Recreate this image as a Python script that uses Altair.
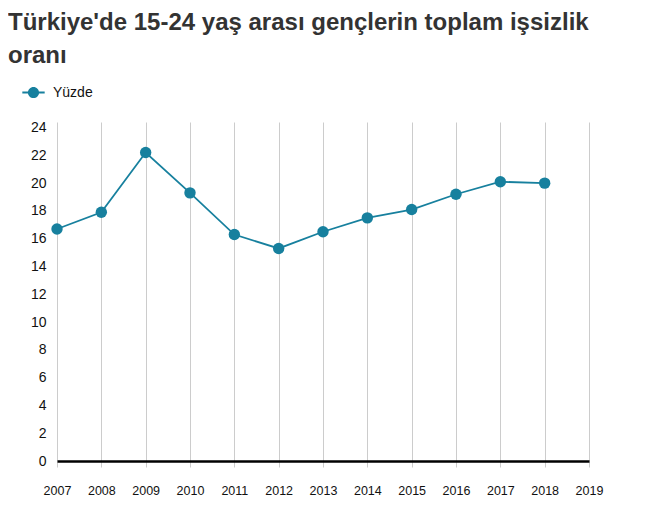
import altair as alt
import pandas as pd

years = [2007, 2008, 2009, 2010, 2011, 2012, 2013, 2014, 2015, 2016, 2017, 2018]
rates = [16.7, 17.9, 22.2, 19.3, 16.3, 15.3, 16.5, 17.5, 18.1, 19.2, 20.1, 20.0]
series_name = "Yüzde"

df = pd.DataFrame({"year": years, "rate": rates, "series": series_name})

FONT = "Liberation Sans"
BLUE = "#17809e"

# line + dot legend glyph (unit square -1..1)
legend_symbol = (
    "M-1,-0.08L1,-0.08L1,0.08L-1,0.08Z "
    "M0.5,0A0.5,0.5 0 1,1 -0.5,0A0.5,0.5 0 1,1 0.5,0Z"
)

base = alt.Chart(df).encode(
    x=alt.X(
        "year:Q",
        scale=alt.Scale(domain=[2007, 2019], nice=False, zero=False),
        axis=alt.Axis(
            values=list(range(2007, 2020)),
            format="d",
            title=None,
            grid=True,
            gridColor="#cccccc",
            gridWidth=1,
            ticks=True,
            tickSize=6,
            tickColor="#cccccc",
            domain=True,
            domainColor="#000000",
            domainWidth=2.5,
            labelPadding=17,
            labelFlush=False,
            labelOverlap=False,
            labelFontSize=12.5,
            labelFont=FONT,
            labelColor="#111111",
        ),
    ),
    y=alt.Y(
        "rate:Q",
        scale=alt.Scale(domain=[0, 24.4], nice=False),
        axis=alt.Axis(
            values=list(range(0, 25, 2)),
            title=None,
            grid=False,
            ticks=False,
            domain=False,
            labelPadding=11,
            labelOverlap=False,
            labelFlush=False,
            labelFontSize=14,
            labelFont=FONT,
            labelColor="#111111",
        ),
    ),
    color=alt.Color(
        "series:N",
        scale=alt.Scale(range=[BLUE]),
        legend=alt.Legend(
            title=None,
            orient="none",
            legendX=-35,
            legendY=-41,
            symbolType=legend_symbol,
            symbolSize=500,
            symbolFillColor=BLUE,
            symbolStrokeWidth=0,
            labelFont=FONT,
            labelFontSize=14,
            labelColor="#111111",
            labelOffset=8,
        ),
    ),
)

line = base.mark_line(strokeWidth=1.8)
dots = base.mark_circle(size=130, opacity=1)

chart = (
    alt.layer(line, dots)
    .properties(
        width=532,
        height=339,
        autosize=alt.AutoSizeParams(type="none"),
        padding={"left": 49, "top": 114, "right": 48, "bottom": 40},
        title=alt.TitleParams(
            text=["Türkiye'de 15-24 yaş arası gençlerin toplam işsizlik", "oranı"],
            anchor="start",
            frame="group",
            dx=-49,
            offset=13,
            font=FONT,
            fontSize=24,
            fontWeight="bold",
            color="#333333",
            lineHeight=33,
        ),
    )
    .configure_view(stroke=None)
)

chart.save("out.html", embed_options={"renderer": "svg", "actions": False})
